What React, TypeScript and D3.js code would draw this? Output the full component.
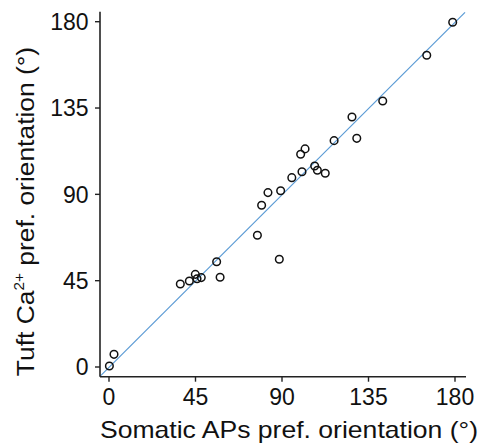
import React from "react";
import * as d3 from "d3";

const somatic = [178.8, 165.3, 142.4, 126.4, 128.9, 117.1, 102.0, 99.7, 107.0, 108.4, 112.5, 100.4, 95.1, 89.3, 82.7, 79.4, 77.2, 88.6, 56.0, 57.8, 37.1, 41.8, 44.9, 45.8, 48.0, 0.2, 2.6];
const tuft = [179.7, 162.5, 138.7, 130.3, 119.2, 118.0, 113.7, 110.9, 104.8, 102.6, 101.0, 101.8, 98.7, 91.9, 90.9, 84.3, 68.7, 56.2, 54.9, 46.8, 43.3, 44.8, 48.3, 46.0, 46.6, 0.5, 6.6];
const fitX = [-4.7, 185.2];
const fitY = [-4.9, 184.9];
const ticks = [0, 45, 90, 135, 180];

export default function App() {
  const W = 480, H = 447;
  const x = d3.scaleLinear().domain([0, 180]).range([109, 455]);
  const y = d3.scaleLinear().domain([0, 180]).range([367, 21.7]);
  const axisY = 376.7;
  const axisX = 100;
  const font = "'Liberation Sans', Arial, sans-serif";
  const line = d3.line<number>().x((d, i) => x(fitX[i])).y((d, i) => y(fitY[i]));
  return (
    <svg width={W} height={H} style={{ position: "absolute", left: 0, top: 0, background: "#fff" }} fontFamily={font}>
      <path d={line(fitX) || ""} stroke="#5b9bd5" strokeWidth={1.2} fill="none" />
      {somatic.map((s, i) => (
        <circle key={i} cx={x(s)} cy={y(tuft[i])} r={3.8} fill="none" stroke="#111" strokeWidth={1.5} />
      ))}
      <line x1={axisX} x2={axisX} y1={11.7} y2={axisY} stroke="#222" strokeWidth={1.6} />
      <line x1={axisX} x2={466} y1={axisY} y2={axisY} stroke="#222" strokeWidth={1.6} />
      {ticks.map((t) => (
        <g key={"y" + t}>
          <line x1={axisX - 5} x2={axisX} y1={y(t)} y2={y(t)} stroke="#222" strokeWidth={1.4} />
          <text x={88.5} y={y(t)} dy="0.36em" textAnchor="end" fontSize={23} fill="#111">{t}</text>
        </g>
      ))}
      {ticks.map((t) => (
        <g key={"x" + t}>
          <line x1={x(t)} x2={x(t)} y1={axisY} y2={axisY + 5} stroke="#222" strokeWidth={1.4} />
          <text x={x(t)} y={405} textAnchor="middle" fontSize={23} fill="#111">{t}</text>
        </g>
      ))}
      <text x={100} y={438.3} textAnchor="start" fontSize={24} fill="#111" textLength={378} lengthAdjust="spacingAndGlyphs">Somatic APs pref. orientation (°)</text>
      <g transform="translate(33.5,211.5) rotate(-90) scale(1.1,1)">
        <text textAnchor="middle" fontSize={24} fill="#111">
          Tuft Ca<tspan fontSize={14} dy={-10}>2+</tspan><tspan dy={10}> pref. orientation (°)</tspan>
        </text>
      </g>
    </svg>
  );
}
